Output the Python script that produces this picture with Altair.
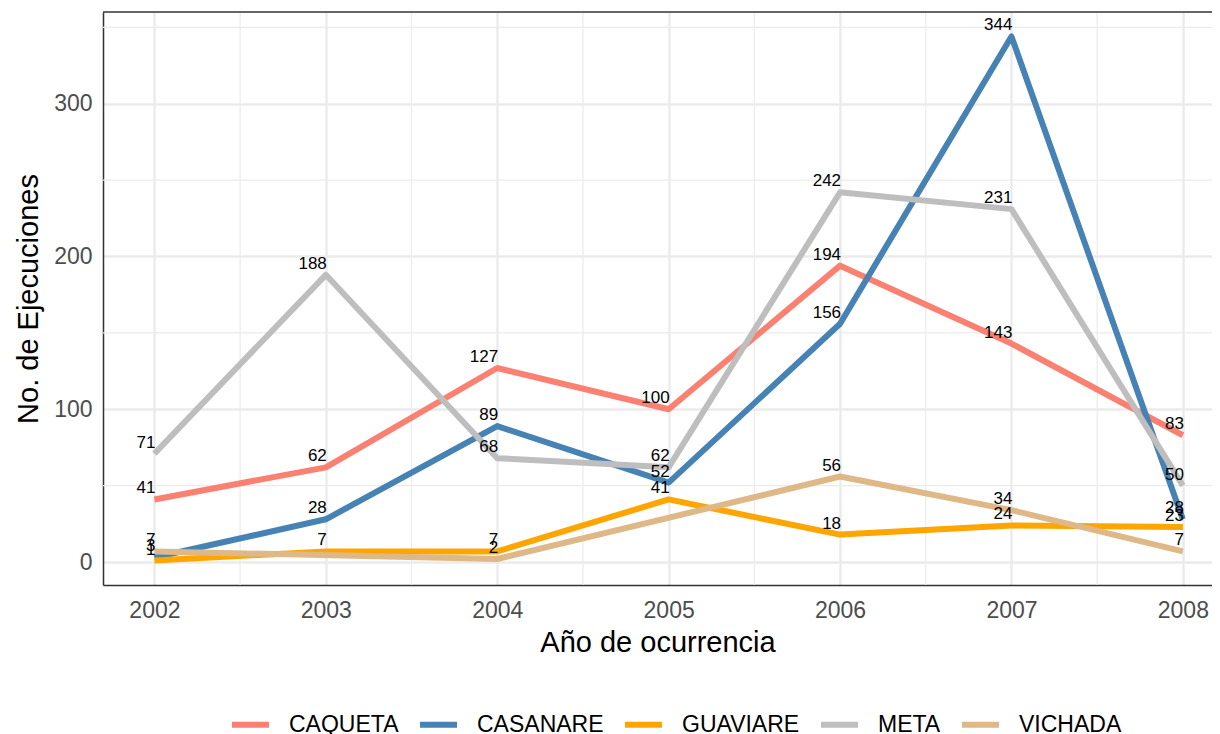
import altair as alt
import pandas as pd

years = [2002, 2003, 2004, 2005, 2006, 2007, 2008]
series = ["CAQUETA", "CASANARE", "GUAVIARE", "META", "VICHADA"]
caqueta = [41, 62, 127, 100, 194, 143, 83]
casanare = [3, 28, 89, 52, 156, 344, 28]
guaviare = [1, 7, 7, 41, 18, 24, 23]
meta = [71, 188, 68, 62, 242, 231, 50]
vichada = [7, None, 2, None, 56, 34, 7]
colors = ["#FA8072", "#4682B4", "#FFA500", "#BEBEBE", "#DEB887"]

y_ticks = [0, 100, 200, 300]
y_minor = [50, 150, 250, 350]
x_minor = [2002.5, 2003.5, 2004.5, 2005.5, 2006.5, 2007.5]
x_domain = [2001.7, 2008.17]
y_domain = [-15, 360]

rows = []
for name, vals in zip(series, [caqueta, casanare, guaviare, meta, vichada]):
    for yr, v in zip(years, vals):
        if v is not None:
            rows.append({"year": yr, "value": v, "dept": name})
df = pd.DataFrame(rows)

FONT = "Liberation Sans"
XT = "Año de ocurrencia"
YT = "No. de Ejecuciones"

xscale = alt.Scale(domain=x_domain, nice=False, zero=False)
yscale = alt.Scale(domain=y_domain, nice=False, zero=False)

x_axis = alt.Axis(
    values=years,
    format="d",
    grid=True,
    gridColor="#EBEBEB",
    gridWidth=2.4,
    ticks=False,
    domainColor="#333333",
    domainWidth=1.5,
    labelFont=FONT,
    labelFontSize=23,
    labelColor="#4D4D4D",
    labelPadding=14,
    titleFont=FONT,
    titleFontSize=29,
    titleFontWeight="normal",
    titleColor="black",
    titlePadding=6,
)
y_axis = alt.Axis(
    values=y_ticks,
    grid=True,
    gridColor="#EBEBEB",
    gridWidth=2.4,
    ticks=False,
    domainColor="#333333",
    domainWidth=1.5,
    labelFont=FONT,
    labelFontSize=23,
    labelColor="#4D4D4D",
    labelPadding=11,
    titleFont=FONT,
    titleFontSize=29,
    titleFontWeight="normal",
    titleColor="black",
    titlePadding=10,
)

base = alt.Chart(df)

lines = base.mark_line(strokeWidth=6, strokeJoin="round", strokeCap="butt").encode(
    x=alt.X("year:Q", scale=xscale, title=XT, axis=x_axis),
    y=alt.Y("value:Q", scale=yscale, title=YT, axis=y_axis),
    color=alt.Color(
        "dept:N",
        scale=alt.Scale(domain=series, range=colors),
        legend=alt.Legend(
            title=None,
            orient="none",
            direction="horizontal",
            legendX=126,
            legendY=691,
            symbolType="stroke",
            symbolSize=1369,
            symbolStrokeWidth=6,
            labelFont=FONT,
            labelFontSize=23,
            labelColor="black",
            labelOffset=17,
            columnPadding=9,
            padding=0,
        ),
    ),
    detail="dept:N",
)

minor_x = alt.Chart(pd.DataFrame({"year": x_minor})).mark_rule(
    color="#EBEBEB", strokeWidth=1.2
).encode(x=alt.X("year:Q", scale=xscale, title=XT, axis=x_axis))

minor_y = alt.Chart(pd.DataFrame({"value": y_minor})).mark_rule(
    color="#EBEBEB", strokeWidth=1.2
).encode(y=alt.Y("value:Q", scale=yscale, title=YT, axis=y_axis))

top_border = alt.Chart(pd.DataFrame({"value": [y_domain[1]]})).mark_rule(
    color="#333333", strokeWidth=1.5
).encode(y=alt.Y("value:Q", scale=yscale, title=YT, axis=y_axis))

labels = base.mark_text(
    align="right", baseline="alphabetic", dx=1, dy=-6, fontSize=17, font=FONT, color="black"
).encode(
    x=alt.X("year:Q", scale=xscale, title=XT, axis=x_axis),
    y=alt.Y("value:Q", scale=yscale, title=YT, axis=y_axis),
    text=alt.Text("value:Q"),
)

chart = alt.layer(minor_x, minor_y, lines, labels, top_border).properties(
    width=1109,
    height=573,
    autosize=alt.AutoSizeParams(type="none"),
    padding={"left": 95, "top": 4, "right": 0, "bottom": 149},
).configure_view(stroke=None)

chart.save("out.html", embed_options={"renderer": "svg", "actions": False})
